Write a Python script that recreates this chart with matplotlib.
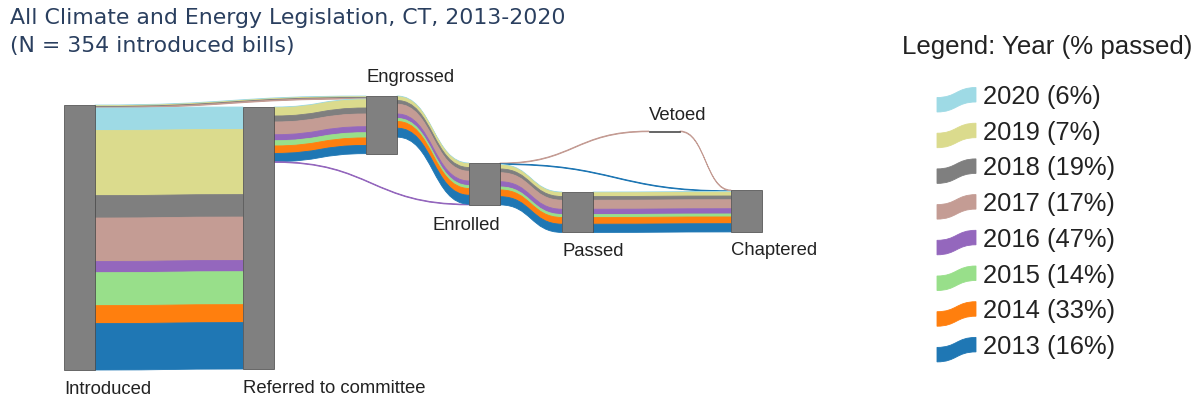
import matplotlib.pyplot as plt
from matplotlib.path import Path
from matplotlib.patches import PathPatch, Rectangle

# years, top to bottom, and their share passed (legend text)
years = ['2020', '2019', '2018', '2017', '2016', '2015', '2014', '2013']
pct_passed = [6, 7, 19, 17, 47, 14, 33, 16]
colors = ['#9edae5', '#dbdb8d', '#7f7f7f', '#c49c94',
          '#9467bd', '#98df8a', '#ff7f0e', '#1f77b4']

nodes = ['Introduced', 'Referred to committee', 'Engrossed', 'Enrolled',
         'Passed', 'Chaptered', 'Vetoed']

# bills per year flowing between stages
intro_to_engrossed = [1, 1, 1, 1, 0, 0, 0, 0]
intro_to_referred = [30, 87, 30, 58, 15, 44, 24, 62]
referred_to_engrossed = [1, 11, 8, 17, 8, 7, 10, 11]
referred_to_enrolled = [0, 0, 0, 0, 1, 0, 0, 0]
engrossed_to_enrolled = [1, 5, 5, 13, 6, 4, 9, 12]
enrolled_to_vetoed = [0, 0, 0, 1, 0, 0, 0, 0]
enrolled_to_chaptered = [0, 0, 0, 0, 0, 0, 0, 1]
enrolled_to_passed = [1, 5, 5, 12, 7, 4, 9, 11]
vetoed_to_chaptered = [0, 0, 0, 1, 0, 0, 0, 0]
passed_to_chaptered = [1, 5, 5, 12, 7, 4, 9, 11]

flows = [
    ('Introduced', 'Engrossed', intro_to_engrossed),
    ('Introduced', 'Referred to committee', intro_to_referred),
    ('Referred to committee', 'Engrossed', referred_to_engrossed),
    ('Referred to committee', 'Enrolled', referred_to_enrolled),
    ('Engrossed', 'Enrolled', engrossed_to_enrolled),
    ('Enrolled', 'Vetoed', enrolled_to_vetoed),
    ('Enrolled', 'Chaptered', enrolled_to_chaptered),
    ('Enrolled', 'Passed', enrolled_to_passed),
    ('Vetoed', 'Chaptered', vetoed_to_chaptered),
    ('Passed', 'Chaptered', passed_to_chaptered),
]

# layout (pixels): node left edge and top edge
node_x = {'Introduced': 64, 'Referred to committee': 243, 'Engrossed': 366,
          'Enrolled': 469, 'Passed': 562, 'Chaptered': 731, 'Vetoed': 649}
node_y = {'Introduced': 105, 'Referred to committee': 107, 'Engrossed': 96,
          'Enrolled': 163, 'Passed': 192, 'Chaptered': 190, 'Vetoed': 131}
node_w = 31
scale = 265 / 354  # px per bill

# links list: (src, tgt, year index, value)
links = []
for src, tgt, vals in flows:
    for i, v in enumerate(vals):
        if v > 0:
            links.append((src, tgt, i, v))

size_in = {n: 0 for n in nodes}
size_out = {n: 0 for n in nodes}
for src, tgt, i, v in links:
    size_out[src] += v
    size_in[tgt] += v
node_h = {n: max(size_in[n], size_out[n]) * scale for n in nodes}

# stacking offsets like d3-sankey
out_off = {}
in_off = {}
for n in nodes:
    outs = [k for k, l in enumerate(links) if l[0] == n]
    outs.sort(key=lambda k: (node_y[links[k][1]], k))
    y = node_y[n]
    for k in outs:
        out_off[k] = y
        y += links[k][3] * scale
    ins = [k for k, l in enumerate(links) if l[1] == n]
    ins.sort(key=lambda k: (node_y[links[k][0]], k))
    y = node_y[n]
    for k in ins:
        in_off[k] = y
        y += links[k][3] * scale


def ribbon(ax, x0, y0, x1, y1, w, color, z=1):
    xm = (x0 + x1) / 2
    verts = [(x0, y0), (xm, y0), (xm, y1), (x1, y1),
             (x1, y1 + w), (xm, y1 + w), (xm, y0 + w), (x0, y0 + w), (x0, y0)]
    codes = [Path.MOVETO, Path.CURVE4, Path.CURVE4, Path.CURVE4,
             Path.LINETO, Path.CURVE4, Path.CURVE4, Path.CURVE4, Path.CLOSEPOLY]
    ax.add_patch(PathPatch(Path(verts, codes), facecolor=color, edgecolor=color,
                           linewidth=0.6, zorder=z))


fig = plt.figure(figsize=(12, 4.01), dpi=100)
ax = fig.add_axes([0, 0, 1, 1])
ax.set_xlim(0, 1200)
ax.set_ylim(401, 0)
ax.axis('off')

for k, (src, tgt, i, v) in enumerate(links):
    ribbon(ax, node_x[src] + node_w, out_off[k], node_x[tgt], in_off[k],
           v * scale, colors[i])

for n in nodes:
    ax.add_patch(Rectangle((node_x[n], node_y[n]), node_w, max(node_h[n], 0.8),
                           facecolor='#808080', edgecolor='#444444',
                           linewidth=0.5, zorder=3))

lab_font = dict(family=['Liberation Sans', 'DejaVu Sans'], fontsize=13.3,
                color='#222222')
for n in ['Introduced', 'Referred to committee', 'Passed', 'Chaptered']:
    ax.text(node_x[n], node_y[n] + node_h[n] + 19, n, ha='left', va='center',
            **lab_font)
ax.text(node_x['Enrolled'] + node_w, node_y['Enrolled'] + node_h['Enrolled'] + 21,
        'Enrolled', ha='right', va='center', **lab_font)
ax.text(node_x['Engrossed'], node_y['Engrossed'] - 19, 'Engrossed',
        ha='left', va='center', **lab_font)
ax.text(node_x['Vetoed'], node_y['Vetoed'] - 15, 'Vetoed',
        ha='left', va='center', **lab_font)

# title
title_font = dict(family='DejaVu Sans', fontsize=15.8, color='#2a3f5f')
ax.text(10, 18, 'All Climate and Energy Legislation, CT, 2013-2020',
        ha='left', va='center', **title_font)
ax.text(10, 46, '(N = 354 introduced bills)', ha='left', va='center',
        **title_font)

# legend
ax.text(1192, 47, 'Legend: Year (% passed)', ha='right', va='center',
        family=['Liberation Sans', 'DejaVu Sans'], fontsize=18.6, color='#222222')
for r, (yr, p) in enumerate(zip(years, pct_passed)):
    c = 97 + r * 35.7
    ribbon(ax, 937, c + 0.5, 976, c - 9.5, 14.5, colors[r])
    ax.text(983, c, f'{yr} ({p}%)', ha='left', va='center',
            family=['Liberation Sans', 'DejaVu Sans'], fontsize=18.4,
            color='#222222')

fig.savefig('out.png', dpi=100)
